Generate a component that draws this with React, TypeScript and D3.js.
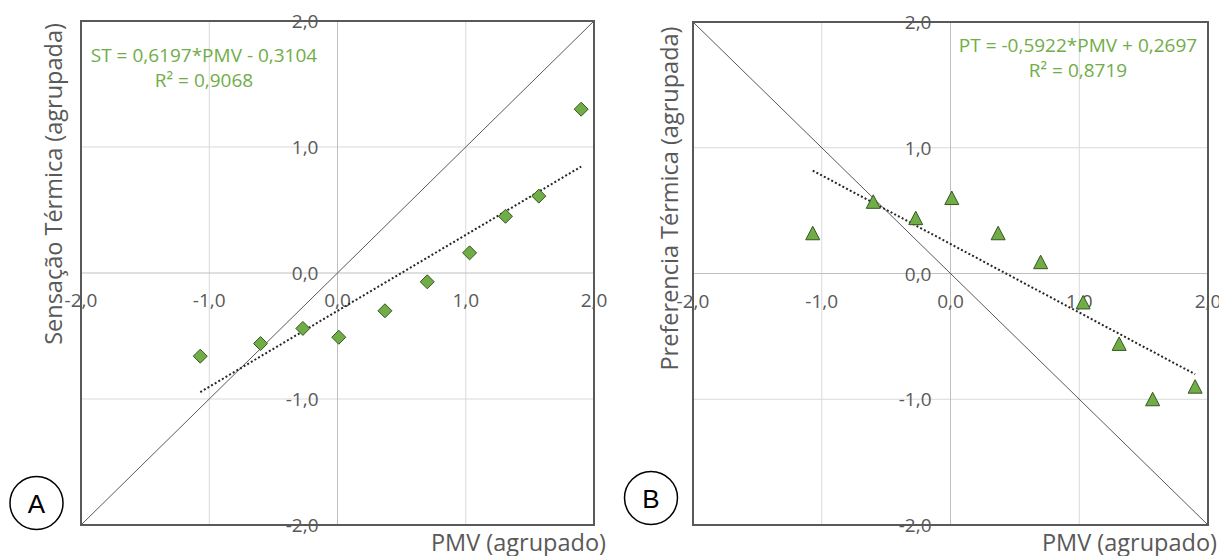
import React from "react";
import * as d3 from "d3";

// ---- Data ----
const pmvGroups = [-1.07, -0.6, -0.27, 0.01, 0.37, 0.7, 1.03, 1.31, 1.57, 1.9];
const sensacaoTermica = [-0.66, -0.56, -0.44, -0.51, -0.3, -0.07, 0.16, 0.45, 0.61, 1.3];
const preferenciaTermica = [0.32, 0.57, 0.44, 0.6, 0.32, 0.09, -0.23, -0.56, -1.0, -0.9];
const axisTicks = [-2, -1, 0, 1, 2];
const equationA = ["ST = 0,6197*PMV - 0,3104", "R² = 0,9068"];
const equationB = ["PT = -0,5922*PMV + 0,2697", "R² = 0,8719"];
const xTitle = "PMV (agrupado)";
const yTitleA = "Sensação Térmica (agrupada)";
const yTitleB = "Preferencia Térmica (agrupada)";

const locale = d3.formatLocale({
  decimal: ",",
  thousands: ".",
  grouping: [3],
  currency: ["", ""],
  minus: "-",
});
const fmt = locale.format(".1f");

const GRAY_TEXT = "#595959";
const GREEN = "#70ad47";
const FONT = "'Open Sans', sans-serif";

function linReg(xs: number[], ys: number[]) {
  const mx = d3.mean(xs)!;
  const my = d3.mean(ys)!;
  const sxy = d3.sum(xs, (x, i) => (x - mx) * (ys[i] - my));
  const sxx = d3.sum(xs, (x) => (x - mx) * (x - mx));
  const slope = sxy / sxx;
  return { slope, intercept: my - slope * mx };
}

type PanelProps = {
  left: number;
  right: number;
  top: number;
  bottom: number;
  ys: number[];
  marker: "diamond" | "triangle";
  diagSign: 1 | -1;
  eq: string[];
  eqX: number;
  eqY: number;
  yTitle: string;
  yTitleX: number;
  yTitleY: number;
  xTitleRight: number;
  badge: string;
  badgeX: number;
  badgeY: number;
};

function Panel(p: PanelProps) {
  const x = d3.scaleLinear().domain([-2, 2]).range([p.left, p.right]);
  const y = d3.scaleLinear().domain([-2, 2]).range([p.bottom, p.top]);
  const { slope, intercept } = linReg(pmvGroups, p.ys);
  const [xmin, xmax] = d3.extent(pmvGroups) as [number, number];
  const line = d3
    .line<number>()
    .x((d) => x(d))
    .y((d) => y(slope * d + intercept));
  const diag = d3
    .line<number>()
    .x((d) => x(d))
    .y((d) => y(p.diagSign * d));
  const markerPath =
    p.marker === "diamond"
      ? "M0,-7L7,0L0,7L-7,0Z"
      : "M0,-7L7,6.5L-7,6.5Z";

  return (
    <g>
      {/* gridlines */}
      {axisTicks
        .filter((t) => t !== 0 && Math.abs(t) !== 2)
        .map((t) => (
          <g key={"g" + t}>
            <line x1={x(t)} x2={x(t)} y1={p.top} y2={p.bottom} stroke="#d9d9d9" strokeWidth={1} />
            <line x1={p.left} x2={p.right} y1={y(t)} y2={y(t)} stroke="#d9d9d9" strokeWidth={1} />
          </g>
        ))}
      {/* zero axes */}
      <line x1={x(0)} x2={x(0)} y1={p.top} y2={p.bottom} stroke="#bfbfbf" strokeWidth={1} />
      <line x1={p.left} x2={p.right} y1={y(0)} y2={y(0)} stroke="#bfbfbf" strokeWidth={1} />
      {/* border */}
      <rect
        x={p.left}
        y={p.top}
        width={p.right - p.left}
        height={p.bottom - p.top}
        fill="none"
        stroke="#595959"
        strokeWidth={2}
      />
      {/* tick labels */}
      {axisTicks.map((t) => (
        <text
          key={"xt" + t}
          x={x(t)}
          y={y(0) + 34}
          textAnchor="middle"
          fontFamily={FONT}
          fontSize={19}
          fill={GRAY_TEXT}
        >
          {fmt(t)}
        </text>
      ))}
      {axisTicks.map((t) => (
        <text
          key={"yt" + t}
          x={x(0) - 19}
          y={y(t) + 7}
          textAnchor="end"
          fontFamily={FONT}
          fontSize={19}
          fill={GRAY_TEXT}
        >
          {fmt(t)}
        </text>
      ))}
      {/* diagonal 1:1 line */}
      <path d={diag([-2, 2]) || ""} fill="none" stroke="#595959" strokeWidth={1} />
      {/* trendline */}
      <path
        d={line([xmin, xmax]) || ""}
        fill="none"
        stroke="#262626"
        strokeWidth={2}
        strokeDasharray="2,2.2"
      />
      {/* markers */}
      {pmvGroups.map((v, i) => (
        <path
          key={"m" + i}
          d={markerPath}
          transform={`translate(${x(v)},${y(p.ys[i])})`}
          fill={GREEN}
          stroke="#375623"
          strokeWidth={1}
        />
      ))}
      {/* equation */}
      {p.eq.map((s, i) => (
        <text
          key={"eq" + i}
          x={p.eqX}
          y={p.eqY + i * 25.6}
          textAnchor="middle"
          fontFamily={FONT}
          fontSize={19}
          fill={GREEN}
        >
          {s}
        </text>
      ))}
      {/* axis titles */}
      <text
        x={p.xTitleRight}
        y={550.5}
        textAnchor="end"
        fontFamily={FONT}
        fontSize={23.5}
        fill={GRAY_TEXT}
      >
        {xTitle}
      </text>
      <text
        transform={`translate(${p.yTitleX},${p.yTitleY}) rotate(-90)`}
        textAnchor="middle"
        fontFamily={FONT}
        fontSize={23.5}
        fill={GRAY_TEXT}
      >
        {p.yTitle}
      </text>
      {/* badge */}
      <circle cx={p.badgeX} cy={p.badgeY} r={26.5} fill="white" stroke="#000" strokeWidth={1.5} />
      <text
        x={p.badgeX}
        y={p.badgeY + 9.5}
        textAnchor="middle"
        fontFamily="'Liberation Sans', Arial, sans-serif"
        fontSize={26}
        fill="#000"
      >
        {p.badge}
      </text>
    </g>
  );
}

export default function App() {
  return (
    <svg
      width={1219}
      height={556}
      style={{ position: "absolute", left: 0, top: 0, background: "#fff" }}
    >
      <rect x={0} y={0} width={1219} height={556} fill="#fff" />
      <Panel
        left={81}
        right={594}
        top={21}
        bottom={525}
        ys={sensacaoTermica}
        marker="diamond"
        diagSign={1}
        eq={equationA}
        eqX={204}
        eqY={61.7}
        yTitle={yTitleA}
        yTitleX={62}
        yTitleY={184}
        xTitleRight={606}
        badge="A"
        badgeX={36.5}
        badgeY={503}
      />
      <Panel
        left={693}
        right={1208}
        top={22}
        bottom={525}
        ys={preferenciaTermica}
        marker="triangle"
        diagSign={-1}
        eq={equationB}
        eqX={1078}
        eqY={51.7}
        yTitle={yTitleB}
        yTitleX={678}
        yTitleY={198.5}
        xTitleRight={1217}
        badge="B"
        badgeX={651}
        badgeY={498}
      />
    </svg>
  );
}
